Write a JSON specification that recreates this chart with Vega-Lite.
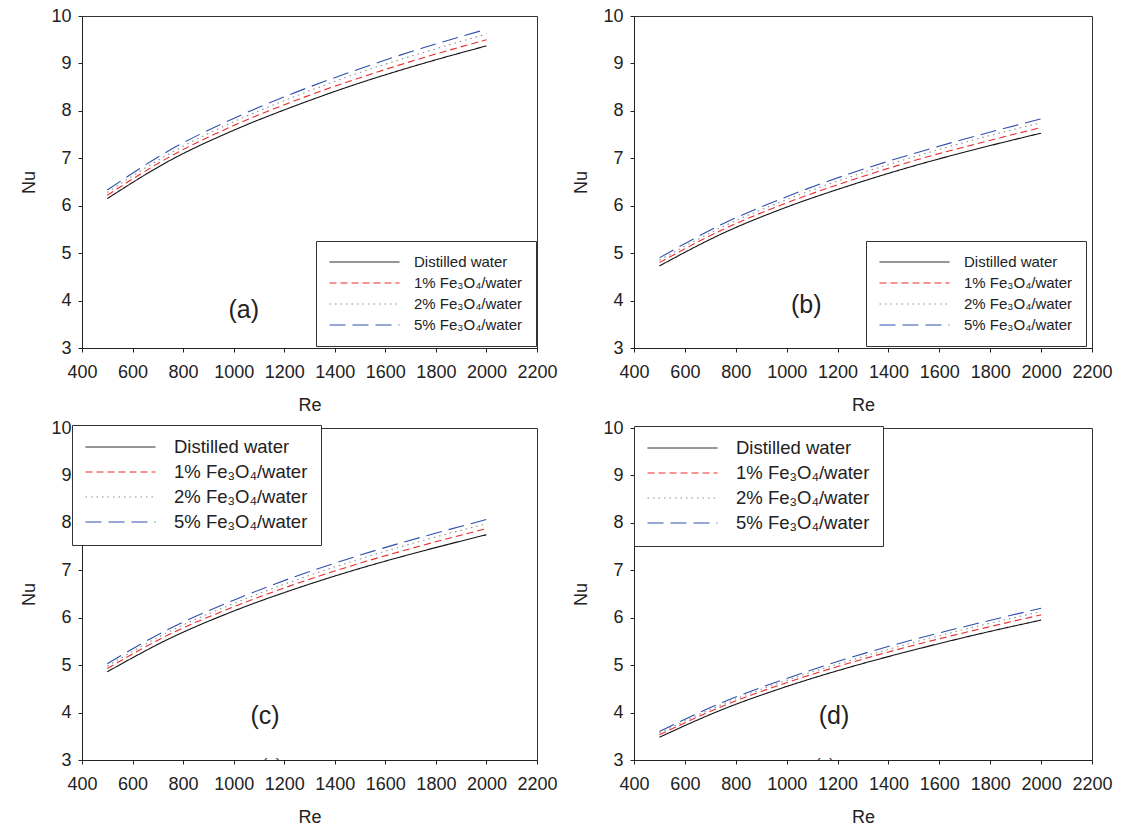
{
  "$schema": "https://vega.github.io/schema/vega-lite/v6.json",
  "padding": {"left": 20, "top": 6, "right": 5, "bottom": 5},
  "background": "white",
  "config": {
    "font": "Liberation Sans",
    "view": {"stroke": "#333", "strokeWidth": 1},
    "axis": {"grid": false, "domainColor": "#222", "tickColor": "#222", "tickSize": 4, "labelFont": "Liberation Sans", "labelFontSize": 18, "labelColor": "#222", "titleFont": "Liberation Sans", "titleFontSize": 18, "titleFontWeight": "normal", "titleColor": "#222", "labelOverlap": false, "labelFlush": false},
    "axisX": {"labelPadding": 11, "titlePadding": 15, "format": "d"},
    "axisY": {"labelPadding": 7, "titlePadding": 12},
    "legend": {"symbolType": "stroke", "symbolSize": 4900, "symbolStrokeWidth": 1, "labelOffset": 16, "strokeColor": "#333", "fillColor": "white", "labelFont": "Liberation Sans", "labelColor": "#222", "rowPadding": 6, "padding": 11, "orient": "none"}
  },
  "datasets": {
    "curves": [
      {"panel":"a","fluid":"Distilled water","Re":500,"Nu":6.15},{"panel":"a","fluid":"Distilled water","Re":750,"Nu":6.96},{"panel":"a","fluid":"Distilled water","Re":1000,"Nu":7.59},{"panel":"a","fluid":"Distilled water","Re":1250,"Nu":8.12},{"panel":"a","fluid":"Distilled water","Re":1500,"Nu":8.59},{"panel":"a","fluid":"Distilled water","Re":1750,"Nu":9.00},{"panel":"a","fluid":"Distilled water","Re":2000,"Nu":9.37},
      {"panel":"a","fluid":"1% Fe₃O₄/water","Re":500,"Nu":6.22},{"panel":"a","fluid":"1% Fe₃O₄/water","Re":750,"Nu":7.04},{"panel":"a","fluid":"1% Fe₃O₄/water","Re":1000,"Nu":7.69},{"panel":"a","fluid":"1% Fe₃O₄/water","Re":1250,"Nu":8.23},{"panel":"a","fluid":"1% Fe₃O₄/water","Re":1500,"Nu":8.70},{"panel":"a","fluid":"1% Fe₃O₄/water","Re":1750,"Nu":9.12},{"panel":"a","fluid":"1% Fe₃O₄/water","Re":2000,"Nu":9.50},
      {"panel":"a","fluid":"2% Fe₃O₄/water","Re":500,"Nu":6.28},{"panel":"a","fluid":"2% Fe₃O₄/water","Re":750,"Nu":7.11},{"panel":"a","fluid":"2% Fe₃O₄/water","Re":1000,"Nu":7.77},{"panel":"a","fluid":"2% Fe₃O₄/water","Re":1250,"Nu":8.32},{"panel":"a","fluid":"2% Fe₃O₄/water","Re":1500,"Nu":8.81},{"panel":"a","fluid":"2% Fe₃O₄/water","Re":1750,"Nu":9.23},{"panel":"a","fluid":"2% Fe₃O₄/water","Re":2000,"Nu":9.62},
      {"panel":"a","fluid":"5% Fe₃O₄/water","Re":500,"Nu":6.33},{"panel":"a","fluid":"5% Fe₃O₄/water","Re":750,"Nu":7.18},{"panel":"a","fluid":"5% Fe₃O₄/water","Re":1000,"Nu":7.84},{"panel":"a","fluid":"5% Fe₃O₄/water","Re":1250,"Nu":8.40},{"panel":"a","fluid":"5% Fe₃O₄/water","Re":1500,"Nu":8.89},{"panel":"a","fluid":"5% Fe₃O₄/water","Re":1750,"Nu":9.33},{"panel":"a","fluid":"5% Fe₃O₄/water","Re":2000,"Nu":9.72},
      {"panel":"b","fluid":"Distilled water","Re":500,"Nu":4.73},{"panel":"b","fluid":"Distilled water","Re":750,"Nu":5.42},{"panel":"b","fluid":"Distilled water","Re":1000,"Nu":5.97},{"panel":"b","fluid":"Distilled water","Re":1250,"Nu":6.43},{"panel":"b","fluid":"Distilled water","Re":1500,"Nu":6.84},{"panel":"b","fluid":"Distilled water","Re":1750,"Nu":7.20},{"panel":"b","fluid":"Distilled water","Re":2000,"Nu":7.53},
      {"panel":"b","fluid":"1% Fe₃O₄/water","Re":500,"Nu":4.80},{"panel":"b","fluid":"1% Fe₃O₄/water","Re":750,"Nu":5.50},{"panel":"b","fluid":"1% Fe₃O₄/water","Re":1000,"Nu":6.06},{"panel":"b","fluid":"1% Fe₃O₄/water","Re":1250,"Nu":6.53},{"panel":"b","fluid":"1% Fe₃O₄/water","Re":1500,"Nu":6.95},{"panel":"b","fluid":"1% Fe₃O₄/water","Re":1750,"Nu":7.31},{"panel":"b","fluid":"1% Fe₃O₄/water","Re":2000,"Nu":7.65},
      {"panel":"b","fluid":"2% Fe₃O₄/water","Re":500,"Nu":4.85},{"panel":"b","fluid":"2% Fe₃O₄/water","Re":750,"Nu":5.56},{"panel":"b","fluid":"2% Fe₃O₄/water","Re":1000,"Nu":6.13},{"panel":"b","fluid":"2% Fe₃O₄/water","Re":1250,"Nu":6.61},{"panel":"b","fluid":"2% Fe₃O₄/water","Re":1500,"Nu":7.03},{"panel":"b","fluid":"2% Fe₃O₄/water","Re":1750,"Nu":7.41},{"panel":"b","fluid":"2% Fe₃O₄/water","Re":2000,"Nu":7.75},
      {"panel":"b","fluid":"5% Fe₃O₄/water","Re":500,"Nu":4.90},{"panel":"b","fluid":"5% Fe₃O₄/water","Re":750,"Nu":5.62},{"panel":"b","fluid":"5% Fe₃O₄/water","Re":1000,"Nu":6.19},{"panel":"b","fluid":"5% Fe₃O₄/water","Re":1250,"Nu":6.68},{"panel":"b","fluid":"5% Fe₃O₄/water","Re":1500,"Nu":7.10},{"panel":"b","fluid":"5% Fe₃O₄/water","Re":1750,"Nu":7.48},{"panel":"b","fluid":"5% Fe₃O₄/water","Re":2000,"Nu":7.83},
      {"panel":"c","fluid":"Distilled water","Re":500,"Nu":4.86},{"panel":"c","fluid":"Distilled water","Re":750,"Nu":5.57},{"panel":"c","fluid":"Distilled water","Re":1000,"Nu":6.14},{"panel":"c","fluid":"Distilled water","Re":1250,"Nu":6.62},{"panel":"c","fluid":"Distilled water","Re":1500,"Nu":7.04},{"panel":"c","fluid":"Distilled water","Re":1750,"Nu":7.41},{"panel":"c","fluid":"Distilled water","Re":2000,"Nu":7.75},
      {"panel":"c","fluid":"1% Fe₃O₄/water","Re":500,"Nu":4.93},{"panel":"c","fluid":"1% Fe₃O₄/water","Re":750,"Nu":5.66},{"panel":"c","fluid":"1% Fe₃O₄/water","Re":1000,"Nu":6.23},{"panel":"c","fluid":"1% Fe₃O₄/water","Re":1250,"Nu":6.72},{"panel":"c","fluid":"1% Fe₃O₄/water","Re":1500,"Nu":7.15},{"panel":"c","fluid":"1% Fe₃O₄/water","Re":1750,"Nu":7.53},{"panel":"c","fluid":"1% Fe₃O₄/water","Re":2000,"Nu":7.88},
      {"panel":"c","fluid":"2% Fe₃O₄/water","Re":500,"Nu":4.98},{"panel":"c","fluid":"2% Fe₃O₄/water","Re":750,"Nu":5.72},{"panel":"c","fluid":"2% Fe₃O₄/water","Re":1000,"Nu":6.30},{"panel":"c","fluid":"2% Fe₃O₄/water","Re":1250,"Nu":6.80},{"panel":"c","fluid":"2% Fe₃O₄/water","Re":1500,"Nu":7.24},{"panel":"c","fluid":"2% Fe₃O₄/water","Re":1750,"Nu":7.63},{"panel":"c","fluid":"2% Fe₃O₄/water","Re":2000,"Nu":7.98},
      {"panel":"c","fluid":"5% Fe₃O₄/water","Re":500,"Nu":5.03},{"panel":"c","fluid":"5% Fe₃O₄/water","Re":750,"Nu":5.78},{"panel":"c","fluid":"5% Fe₃O₄/water","Re":1000,"Nu":6.37},{"panel":"c","fluid":"5% Fe₃O₄/water","Re":1250,"Nu":6.88},{"panel":"c","fluid":"5% Fe₃O₄/water","Re":1500,"Nu":7.32},{"panel":"c","fluid":"5% Fe₃O₄/water","Re":1750,"Nu":7.71},{"panel":"c","fluid":"5% Fe₃O₄/water","Re":2000,"Nu":8.07},
      {"panel":"d","fluid":"Distilled water","Re":500,"Nu":3.48},{"panel":"d","fluid":"Distilled water","Re":750,"Nu":4.07},{"panel":"d","fluid":"Distilled water","Re":1000,"Nu":4.55},{"panel":"d","fluid":"Distilled water","Re":1250,"Nu":4.96},{"panel":"d","fluid":"Distilled water","Re":1500,"Nu":5.32},{"panel":"d","fluid":"Distilled water","Re":1750,"Nu":5.65},{"panel":"d","fluid":"Distilled water","Re":2000,"Nu":5.95},
      {"panel":"d","fluid":"1% Fe₃O₄/water","Re":500,"Nu":3.53},{"panel":"d","fluid":"1% Fe₃O₄/water","Re":750,"Nu":4.14},{"panel":"d","fluid":"1% Fe₃O₄/water","Re":1000,"Nu":4.63},{"panel":"d","fluid":"1% Fe₃O₄/water","Re":1250,"Nu":5.05},{"panel":"d","fluid":"1% Fe₃O₄/water","Re":1500,"Nu":5.42},{"panel":"d","fluid":"1% Fe₃O₄/water","Re":1750,"Nu":5.75},{"panel":"d","fluid":"1% Fe₃O₄/water","Re":2000,"Nu":6.06},
      {"panel":"d","fluid":"2% Fe₃O₄/water","Re":500,"Nu":3.57},{"panel":"d","fluid":"2% Fe₃O₄/water","Re":750,"Nu":4.18},{"panel":"d","fluid":"2% Fe₃O₄/water","Re":1000,"Nu":4.68},{"panel":"d","fluid":"2% Fe₃O₄/water","Re":1250,"Nu":5.10},{"panel":"d","fluid":"2% Fe₃O₄/water","Re":1500,"Nu":5.48},{"panel":"d","fluid":"2% Fe₃O₄/water","Re":1750,"Nu":5.82},{"panel":"d","fluid":"2% Fe₃O₄/water","Re":2000,"Nu":6.13},
      {"panel":"d","fluid":"5% Fe₃O₄/water","Re":500,"Nu":3.60},{"panel":"d","fluid":"5% Fe₃O₄/water","Re":750,"Nu":4.22},{"panel":"d","fluid":"5% Fe₃O₄/water","Re":1000,"Nu":4.72},{"panel":"d","fluid":"5% Fe₃O₄/water","Re":1250,"Nu":5.16},{"panel":"d","fluid":"5% Fe₃O₄/water","Re":1500,"Nu":5.54},{"panel":"d","fluid":"5% Fe₃O₄/water","Re":1750,"Nu":5.88},{"panel":"d","fluid":"5% Fe₃O₄/water","Re":2000,"Nu":6.20}
    ],
    "labels": [
      {"panel":"a","kind":"main","Re":1040,"Nu":3.8,"text":"(a)"},
      {"panel":"b","kind":"main","Re":1077,"Nu":3.91,"text":"(b)"},
      {"panel":"c","kind":"main","Re":1124,"Nu":3.93,"text":"(c)"},
      {"panel":"d","kind":"main","Re":1186,"Nu":3.93,"text":"(d)"},
      {"panel":"c","kind":"ghost","Re":1150,"Nu":2.9,"text":"(c)"},
      {"panel":"d","kind":"ghost","Re":1150,"Nu":2.9,"text":"(c)"}
    ]
  },
  "columns": 2,
  "spacing": {"row": 80, "column": 97},
  "bounds": "flush",
  "resolve": {"scale": {"color": "independent", "strokeDash": "independent"}, "legend": {"color": "independent", "strokeDash": "independent"}},
  "concat": [
    {
      "width": 455, "height": 332,
      "layer": [
        {"data": {"name": "curves"}, "transform": [{"filter": "datum.panel === 'a'"}],
         "mark": {"type": "line", "strokeWidth": 1.1, "interpolate": "monotone"},
         "encoding": {
           "x": {"field": "Re", "type": "quantitative", "scale": {"domain": [400, 2200], "nice": false}, "axis": {"values": [400,600,800,1000,1200,1400,1600,1800,2000,2200], "title": "Re"}},
           "y": {"field": "Nu", "type": "quantitative", "scale": {"domain": [3, 10], "nice": false}, "axis": {"values": [3,4,5,6,7,8,9,10], "title": "Nu"}},
           "color": {"field": "fluid", "type": "nominal", "scale": {"domain": ["Distilled water","1% Fe₃O₄/water","2% Fe₃O₄/water","5% Fe₃O₄/water"], "range": ["#111111","#ee2b2b","#8a8a8a","#2f4fae"]}, "legend": {"title": null, "legendX": 234, "legendY": 225, "labelFontSize": 15, "clipHeight": 16, "rowPadding": 5, "padding": 13, "labelOffset": 14,
             "encode": {"symbols": {"update": {"stroke": {"signal": "['#111111','#ee2b2b','#8a8a8a','#2f4fae'][indexof(['Distilled water','1% Fe₃O₄/water','2% Fe₃O₄/water','5% Fe₃O₄/water'], datum.value)]"}, "strokeDash": {"signal": "[[1,0],[7,4],[1.5,4],[16,7]][indexof(['Distilled water','1% Fe₃O₄/water','2% Fe₃O₄/water','5% Fe₃O₄/water'], datum.value)]"}}}}}},
           "strokeDash": {"field": "fluid", "type": "nominal", "scale": {"domain": ["Distilled water","1% Fe₃O₄/water","2% Fe₃O₄/water","5% Fe₃O₄/water"], "range": [[1,0],[7,4],[1.5,4],[16,7]]}, "legend": null}
         }},
        {"data": {"name": "labels"}, "transform": [{"filter": "datum.panel === 'a' && datum.kind === 'main'"}],
         "mark": {"type": "text", "fontSize": 25, "font": "Liberation Sans", "color": "#222"},
         "encoding": {"x": {"field": "Re", "type": "quantitative"}, "y": {"field": "Nu", "type": "quantitative"}, "text": {"field": "text"}}}
      ]
    },
    {
      "width": 458, "height": 332,
      "layer": [
        {"data": {"name": "curves"}, "transform": [{"filter": "datum.panel === 'b'"}],
         "mark": {"type": "line", "strokeWidth": 1.1, "interpolate": "monotone"},
         "encoding": {
           "x": {"field": "Re", "type": "quantitative", "scale": {"domain": [400, 2200], "nice": false}, "axis": {"values": [400,600,800,1000,1200,1400,1600,1800,2000,2200], "title": "Re"}},
           "y": {"field": "Nu", "type": "quantitative", "scale": {"domain": [3, 10], "nice": false}, "axis": {"values": [3,4,5,6,7,8,9,10], "title": "Nu"}},
           "color": {"field": "fluid", "type": "nominal", "scale": {"domain": ["Distilled water","1% Fe₃O₄/water","2% Fe₃O₄/water","5% Fe₃O₄/water"], "range": ["#111111","#ee2b2b","#8a8a8a","#2f4fae"]}, "legend": {"title": null, "legendX": 232, "legendY": 225, "labelFontSize": 15, "clipHeight": 16, "rowPadding": 5, "padding": 13, "labelOffset": 14,
             "encode": {"symbols": {"update": {"stroke": {"signal": "['#111111','#ee2b2b','#8a8a8a','#2f4fae'][indexof(['Distilled water','1% Fe₃O₄/water','2% Fe₃O₄/water','5% Fe₃O₄/water'], datum.value)]"}, "strokeDash": {"signal": "[[1,0],[7,4],[1.5,4],[16,7]][indexof(['Distilled water','1% Fe₃O₄/water','2% Fe₃O₄/water','5% Fe₃O₄/water'], datum.value)]"}}}}}},
           "strokeDash": {"field": "fluid", "type": "nominal", "scale": {"domain": ["Distilled water","1% Fe₃O₄/water","2% Fe₃O₄/water","5% Fe₃O₄/water"], "range": [[1,0],[7,4],[1.5,4],[16,7]]}, "legend": null}
         }},
        {"data": {"name": "labels"}, "transform": [{"filter": "datum.panel === 'b' && datum.kind === 'main'"}],
         "mark": {"type": "text", "fontSize": 25, "font": "Liberation Sans", "color": "#222"},
         "encoding": {"x": {"field": "Re", "type": "quantitative"}, "y": {"field": "Nu", "type": "quantitative"}, "text": {"field": "text"}}}
      ]
    },
    {
      "width": 455, "height": 332,
      "layer": [
        {"data": {"name": "curves"}, "transform": [{"filter": "datum.panel === 'c'"}],
         "mark": {"type": "line", "strokeWidth": 1.1, "interpolate": "monotone"},
         "encoding": {
           "x": {"field": "Re", "type": "quantitative", "scale": {"domain": [400, 2200], "nice": false}, "axis": {"values": [400,600,800,1000,1200,1400,1600,1800,2000,2200], "title": "Re"}},
           "y": {"field": "Nu", "type": "quantitative", "scale": {"domain": [3, 10], "nice": false}, "axis": {"values": [3,4,5,6,7,8,9,10], "title": "Nu"}},
           "color": {"field": "fluid", "type": "nominal", "scale": {"domain": ["Distilled water","1% Fe₃O₄/water","2% Fe₃O₄/water","5% Fe₃O₄/water"], "range": ["#111111","#ee2b2b","#8a8a8a","#2f4fae"]}, "legend": {"title": null, "legendX": -10, "legendY": -3, "labelFontSize": 18.5, "clipHeight": 18, "padding": 13, "labelOffset": 18,
             "encode": {"symbols": {"update": {"stroke": {"signal": "['#111111','#ee2b2b','#8a8a8a','#2f4fae'][indexof(['Distilled water','1% Fe₃O₄/water','2% Fe₃O₄/water','5% Fe₃O₄/water'], datum.value)]"}, "strokeDash": {"signal": "[[1,0],[7,4],[1.5,4],[16,7]][indexof(['Distilled water','1% Fe₃O₄/water','2% Fe₃O₄/water','5% Fe₃O₄/water'], datum.value)]"}}}}}},
           "strokeDash": {"field": "fluid", "type": "nominal", "scale": {"domain": ["Distilled water","1% Fe₃O₄/water","2% Fe₃O₄/water","5% Fe₃O₄/water"], "range": [[1,0],[7,4],[1.5,4],[16,7]]}, "legend": null}
         }},
        {"data": {"name": "labels"}, "transform": [{"filter": "datum.panel === 'c' && datum.kind === 'main'"}],
         "mark": {"type": "text", "fontSize": 25, "font": "Liberation Sans", "color": "#222"},
         "encoding": {"x": {"field": "Re", "type": "quantitative"}, "y": {"field": "Nu", "type": "quantitative"}, "text": {"field": "text"}}},
        {"data": {"name": "labels"}, "transform": [{"filter": "datum.panel === 'c' && datum.kind === 'ghost'"}],
         "mark": {"type": "text", "fontSize": 17, "font": "Liberation Sans", "color": "#444", "clip": true},
         "encoding": {"x": {"field": "Re", "type": "quantitative"}, "y": {"field": "Nu", "type": "quantitative"}, "text": {"field": "text"}}}
      ]
    },
    {
      "width": 458, "height": 332,
      "layer": [
        {"data": {"name": "curves"}, "transform": [{"filter": "datum.panel === 'd'"}],
         "mark": {"type": "line", "strokeWidth": 1.1, "interpolate": "monotone"},
         "encoding": {
           "x": {"field": "Re", "type": "quantitative", "scale": {"domain": [400, 2200], "nice": false}, "axis": {"values": [400,600,800,1000,1200,1400,1600,1800,2000,2200], "title": "Re"}},
           "y": {"field": "Nu", "type": "quantitative", "scale": {"domain": [3, 10], "nice": false}, "axis": {"values": [3,4,5,6,7,8,9,10], "title": "Nu"}},
           "color": {"field": "fluid", "type": "nominal", "scale": {"domain": ["Distilled water","1% Fe₃O₄/water","2% Fe₃O₄/water","5% Fe₃O₄/water"], "range": ["#111111","#ee2b2b","#8a8a8a","#2f4fae"]}, "legend": {"title": null, "legendX": 0, "legendY": -2, "labelFontSize": 18.5, "clipHeight": 18, "padding": 13, "labelOffset": 18,
             "encode": {"symbols": {"update": {"stroke": {"signal": "['#111111','#ee2b2b','#8a8a8a','#2f4fae'][indexof(['Distilled water','1% Fe₃O₄/water','2% Fe₃O₄/water','5% Fe₃O₄/water'], datum.value)]"}, "strokeDash": {"signal": "[[1,0],[7,4],[1.5,4],[16,7]][indexof(['Distilled water','1% Fe₃O₄/water','2% Fe₃O₄/water','5% Fe₃O₄/water'], datum.value)]"}}}}}},
           "strokeDash": {"field": "fluid", "type": "nominal", "scale": {"domain": ["Distilled water","1% Fe₃O₄/water","2% Fe₃O₄/water","5% Fe₃O₄/water"], "range": [[1,0],[7,4],[1.5,4],[16,7]]}, "legend": null}
         }},
        {"data": {"name": "labels"}, "transform": [{"filter": "datum.panel === 'd' && datum.kind === 'main'"}],
         "mark": {"type": "text", "fontSize": 25, "font": "Liberation Sans", "color": "#222"},
         "encoding": {"x": {"field": "Re", "type": "quantitative"}, "y": {"field": "Nu", "type": "quantitative"}, "text": {"field": "text"}}},
        {"data": {"name": "labels"}, "transform": [{"filter": "datum.panel === 'd' && datum.kind === 'ghost'"}],
         "mark": {"type": "text", "fontSize": 17, "font": "Liberation Sans", "color": "#444", "clip": true},
         "encoding": {"x": {"field": "Re", "type": "quantitative"}, "y": {"field": "Nu", "type": "quantitative"}, "text": {"field": "text"}}}
      ]
    }
  ]
}
